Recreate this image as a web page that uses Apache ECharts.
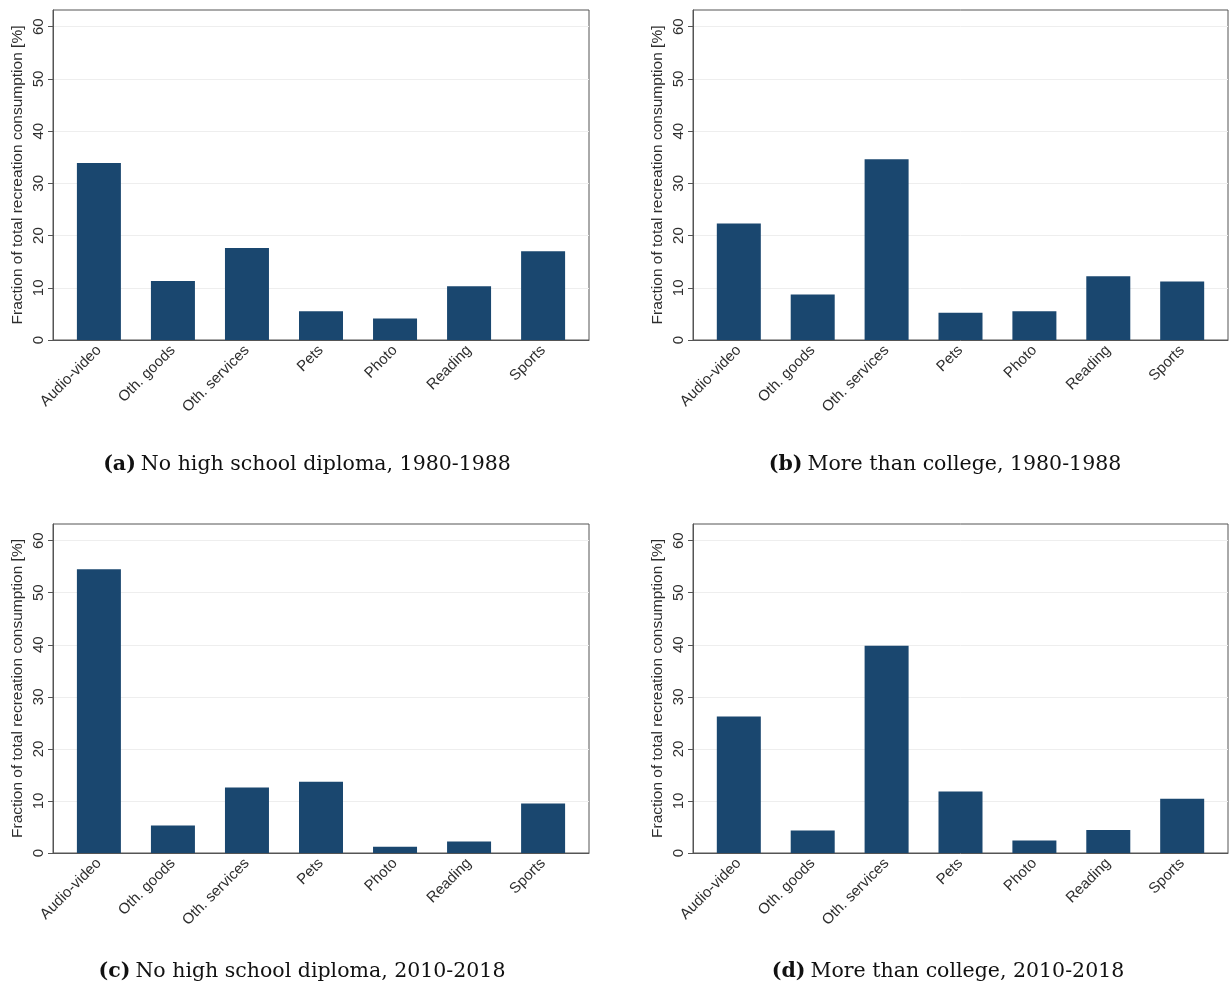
<!DOCTYPE html>
<html>
<head>
<meta charset="utf-8">
<script src="https://cdn.jsdelivr.net/npm/echarts@6/dist/echarts.min.js"></script>
<style>
  html, body { margin: 0; padding: 0; background: #fff; }
  #chart { width: 1229px; height: 991px; }
</style>
</head>
<body>
<div id="chart"></div>
<script>
// Recreation spending categories (x axis)
const categories = ['Audio-video', 'Oth. goods', 'Oth. services', 'Pets', 'Photo', 'Reading', 'Sports'];

// Share of total recreation consumption [%] by group and period
const noHighSchool1980 = [33.9, 11.3, 17.6, 5.5, 4.1, 10.3, 17.0];
const moreThanCollege1980 = [22.3, 8.7, 34.6, 5.2, 5.5, 12.2, 11.2];
const noHighSchool2010 = [54.5, 5.3, 12.6, 13.7, 1.2, 2.2, 9.5];
const moreThanCollege2010 = [26.2, 4.3, 39.8, 11.8, 2.4, 4.4, 10.4];

// Y axis tick labels
const yTicks = [0, 10, 20, 30, 40, 50, 60];

// Panel captions
const panelTags = ['(a)', '(b)', '(c)', '(d)'];
const panelCaptions = [
  'No high school diploma, 1980-1988',
  'More than college, 1980-1988',
  'No high school diploma, 2010-2018',
  'More than college, 2010-2018'
];

const panelData = [noHighSchool1980, moreThanCollege1980, noHighSchool2010, moreThanCollege2010];
const yName = 'Fraction of total recreation consumption [%]';

const barColor = '#1a476f';
const axisColor = '#555555';
const textColor = '#2e2e2e';
const fontFamily = "'Liberation Sans', Arial, sans-serif";
const serif = "'DejaVu Serif', serif";

// Plot regions (left, top, width, height) for the 2x2 layout
const grids = [
  { left: 53, top: 10, width: 536, height: 330 },
  { left: 693, top: 10, width: 535, height: 330 },
  { left: 53, top: 524, width: 536, height: 329 },
  { left: 693, top: 524, width: 535, height: 329 }
];
const captionPos = [
  { x: 302, y: 449 },
  { x: 940, y: 449 },
  { x: 297, y: 956 },
  { x: 943, y: 956 }
];

const catIdx = categories.map((_, i) => i);

const option = {
  animation: false,
  backgroundColor: '#ffffff',
  grid: grids.map(g => ({
    left: g.left, top: g.top, width: g.width, height: g.height,
    show: true, borderColor: axisColor, borderWidth: 1, backgroundColor: '#ffffff',
    containLabel: false
  })),
  xAxis: grids.map((g, i) => ({
    type: 'value',
    gridIndex: i,
    min: -0.62,
    max: 6.62,
    axisLine: { show: true, onZero: false, lineStyle: { color: axisColor, width: 1 } },
    axisTick: { show: false, customValues: catIdx },
    splitLine: { show: false },
    axisLabel: {
      customValues: catIdx,
      formatter: v => categories[Math.round(v)],
      rotate: 45,
      margin: 8,
      fontSize: 15,
      color: textColor,
      fontFamily: fontFamily
    }
  })),
  yAxis: grids.map((g, i) => ({
    type: 'value',
    gridIndex: i,
    min: 0,
    max: 63.2,
    name: yName,
    nameLocation: 'middle',
    nameGap: 27,
    nameTextStyle: { fontSize: 15.5, color: textColor, fontFamily: fontFamily },
    axisLine: { show: true, onZero: false, lineStyle: { color: axisColor, width: 1 } },
    axisTick: { show: true, length: 5, customValues: yTicks, lineStyle: { color: axisColor } },
    splitLine: { show: true, lineStyle: { color: '#eeeeee', width: 1 } },
    axisLabel: {
      customValues: yTicks,
      rotate: 90,
      margin: 7,
      fontSize: 15,
      color: textColor,
      fontFamily: fontFamily
    }
  })),
  title: captionPos.map((p, i) => ({
    text: '{b|' + panelTags[i] + '} {r|' + panelCaptions[i] + '}',
    left: p.x,
    top: p.y,
    textAlign: 'center',
    textStyle: {
      rich: {
        b: { fontFamily: serif, fontWeight: 'bold', fontSize: 20.5, color: '#111' },
        r: { fontFamily: serif, fontWeight: 'normal', fontSize: 20.5, color: '#111' }
      }
    }
  })),
  series: panelData.map((vals, i) => ({
    type: 'bar',
    xAxisIndex: i,
    yAxisIndex: i,
    barWidth: 44,
    itemStyle: { color: barColor },
    data: vals.map((v, k) => [k, v])
  }))
};

const chart = echarts.init(document.getElementById('chart'), null, { renderer: 'canvas' });
chart.setOption(option);
</script>
</body>
</html>
